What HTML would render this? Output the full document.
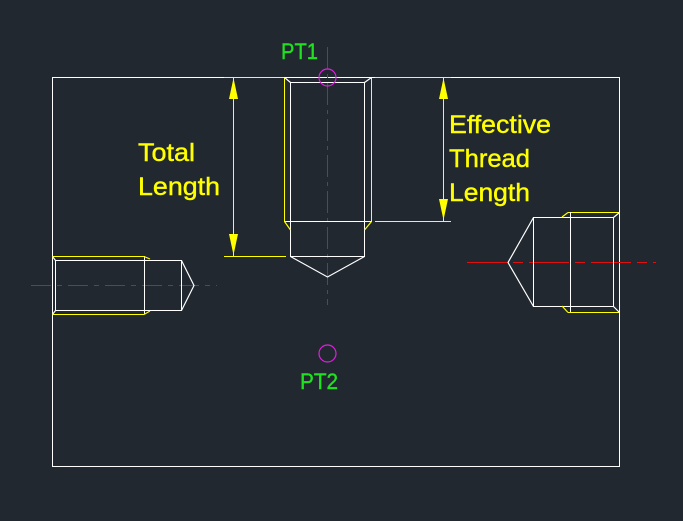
<!DOCTYPE html>
<html><head><style>
body{margin:0;background:#212830;}
svg{display:block}
text{font-family:"Liberation Sans",sans-serif;}
</style></head><body>
<svg width="683" height="521" viewBox="0 0 683 521">
<rect width="683" height="521" fill="#212830"/>
<g shape-rendering="crispEdges">
<rect x="52.5" y="77.5" width="567" height="389" fill="none" stroke="#fff" stroke-width="1"/>
<g stroke="#e01010" stroke-width="1.2" fill="none">
<line x1="327.5" y1="47" x2="327.5" y2="305" stroke-dasharray="22,5,4,5"/>
<line x1="31" y1="285.5" x2="217" y2="285.5" stroke-dasharray="20,6,5,6"/>
<line x1="467" y1="262.5" x2="656" y2="262.5" stroke-dasharray="40,6,10,6"/>
</g>
<g fill="none" stroke-width="1.2">
<polyline points="284.5,77.5 284.5,221.5 371.5,221.5 371.5,77.5" stroke="#ffff00"/>
<rect x="290.5" y="82.5" width="74" height="174" stroke="#fff"/>
<line x1="284.5" y1="221.5" x2="371.5" y2="221.5" stroke="#fff"/>
</g>
<g stroke="#ffff00" stroke-width="1.2" fill="none">
<line x1="224" y1="77.5" x2="284" y2="77.5"/>
<line x1="224" y1="256.5" x2="286" y2="256.5"/>
<line x1="233.5" y1="77" x2="233.5" y2="256"/>
<line x1="375" y1="77.5" x2="451" y2="77.5"/>
<line x1="375" y1="221.5" x2="451" y2="221.5"/>
<line x1="443.5" y1="77" x2="443.5" y2="221"/>
</g>
<g fill="none" stroke-width="1.2">
<line x1="52" y1="256.5" x2="144" y2="256.5" stroke="#ffff00"/>
<line x1="52" y1="314.5" x2="144" y2="314.5" stroke="#ffff00"/>
<rect x="55.5" y="260.5" width="126" height="50" stroke="#fff"/>
<line x1="144.5" y1="256" x2="144.5" y2="314" stroke="#fff"/>
<line x1="568" y1="212.5" x2="619" y2="212.5" stroke="#ffff00"/>
<line x1="568" y1="312.5" x2="619" y2="312.5" stroke="#ffff00"/>
<rect x="533.5" y="217.5" width="80" height="89" stroke="#fff"/>
<line x1="570.5" y1="212" x2="570.5" y2="312" stroke="#fff"/>
</g>
</g>
<g fill="none" stroke-width="1.2">
<line x1="284.5" y1="221.5" x2="290.5" y2="230" stroke="#ffff00"/>
<line x1="371.5" y1="221.5" x2="364.5" y2="230" stroke="#ffff00"/>
<line x1="284.5" y1="77.5" x2="290.5" y2="82.5" stroke="#fff"/>
<line x1="371.5" y1="77.5" x2="364.5" y2="82.5" stroke="#fff"/>
<polyline points="290.5,256.5 327.5,277 364.5,256.5" stroke="#fff"/>
<line x1="144" y1="256.5" x2="150" y2="259" stroke="#ffff00"/>
<line x1="144" y1="314.5" x2="150" y2="311" stroke="#ffff00"/>
<polyline points="181.5,260.5 194,285.5 181.5,310.5" stroke="#fff"/>
<line x1="52.5" y1="256.5" x2="55.5" y2="260.5" stroke="#fff"/>
<line x1="52.5" y1="314.5" x2="55.5" y2="310.5" stroke="#fff"/>
<line x1="562" y1="217" x2="568" y2="212.5" stroke="#ffff00"/>
<line x1="562" y1="306" x2="568" y2="312.5" stroke="#ffff00"/>
<polyline points="533.5,217.5 508,262.5 533.5,306.5" stroke="#fff"/>
<line x1="619.5" y1="212.5" x2="613.5" y2="217.5" stroke="#fff"/>
<line x1="619.5" y1="312.5" x2="613.5" y2="306.5" stroke="#fff"/>
</g>
<g fill="#ffff00">
<polygon points="233.5,78 229,99 238,99"/>
<polygon points="233.5,255 229,234 238,234"/>
<polygon points="443.5,78 439,99 448,99"/>
<polygon points="443.5,220 439,199 448,199"/>
</g>
<circle cx="327.5" cy="77.5" r="8.5" fill="none" stroke="#e020e0" stroke-width="1.2"/>
<circle cx="327.5" cy="353.5" r="8.5" fill="none" stroke="#e020e0" stroke-width="1.2"/>
<g fill="#20e020" stroke="#20e020" stroke-width="0.4" font-size="22">
<text x="281" y="59" textLength="37" lengthAdjust="spacingAndGlyphs">PT1</text>
<text x="300" y="389" textLength="38" lengthAdjust="spacingAndGlyphs">PT2</text>
</g>
<g fill="#ffff00" stroke="#ffff00" stroke-width="0.4" font-size="25">
<text x="138" y="161" textLength="57" lengthAdjust="spacingAndGlyphs">Total</text>
<text x="138" y="195" textLength="82" lengthAdjust="spacingAndGlyphs">Length</text>
<text x="449" y="133" textLength="102" lengthAdjust="spacingAndGlyphs">Effective</text>
<text x="449" y="167" textLength="81" lengthAdjust="spacingAndGlyphs">Thread</text>
<text x="449" y="201" textLength="81" lengthAdjust="spacingAndGlyphs">Length</text>
</g>
</svg>
</body></html>
